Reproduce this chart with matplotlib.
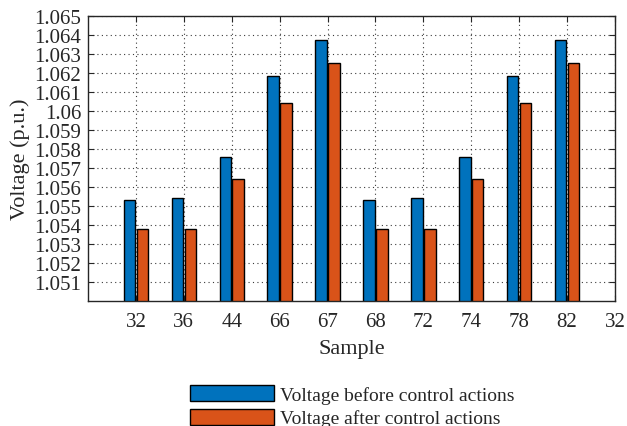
import matplotlib
matplotlib.use("Agg")
import matplotlib.pyplot as plt
import numpy as np

samples = ["32", "36", "44", "66", "67", "68", "72", "74", "78", "82", "32"]
before = [1.05532, 1.05543, 1.05757, 1.06182, 1.06375, 1.05532, 1.05543, 1.05757, 1.06182, 1.06375]
after = [1.05381, 1.05381, 1.05644, 1.06042, 1.06252, 1.05381, 1.05381, 1.05644, 1.06042, 1.06252]
yticks = [1.051, 1.052, 1.053, 1.054, 1.055, 1.056, 1.057, 1.058, 1.059, 1.06,
          1.061, 1.062, 1.063, 1.064, 1.065]
ytick_labels = ["1.051", "1.052", "1.053", "1.054", "1.055", "1.056", "1.057", "1.058",
                "1.059", "1.06", "1.061", "1.062", "1.063", "1.064", "1.065"]

plt.rcParams['font.family'] = ['Liberation Serif', 'DejaVu Serif']

fig = plt.figure(figsize=(6.27, 4.27), dpi=100)
ax = fig.add_axes([88/627, 1 - 302/427, (615-88)/627, (302-17)/427])

x = np.arange(1, len(before) + 1)
w = 0.24
off = 0.135
c_blue = "#0072BD"
c_orange = "#D95319"
b1 = ax.bar(x - off, before, w, bottom=0, color=c_blue, edgecolor="black", linewidth=1.0,
            label="Voltage before control actions", zorder=3)
b2 = ax.bar(x + off, after, w, bottom=0, color=c_orange, edgecolor="black", linewidth=1.0,
            label="Voltage after control actions", zorder=3)

ax.set_xlim(0, len(samples))
ax.set_ylim(1.05, 1.065)
ax.set_xticks(np.arange(1, len(samples) + 1))
ax.set_xticklabels(samples)
ax.set_yticks(yticks)
ax.set_yticklabels(ytick_labels)

dark = "#262626"
ax.tick_params(axis='both', direction='in', top=True, right=True, length=4,
               width=0.8, colors=dark, labelsize=15, pad=5)
ax.tick_params(axis='x', pad=8)
for s in ax.spines.values():
    s.set_color(dark)
    s.set_linewidth(1.0)
    s.set_zorder(4)

ax.grid(True, which='major', axis='both', linestyle=(0, (1, 3)), color='#262626',
        linewidth=0.8, alpha=0.9, zorder=0)
ax.set_axisbelow(True)

ax.set_xlabel("Sample", fontsize=16, color=dark, labelpad=6)
ax.set_ylabel("Voltage (p.u.)", fontsize=16, color=dark, labelpad=3)

leg = fig.legend(handles=[b1, b2], loc='upper left', bbox_to_anchor=(190/627, 1 - 386/427),
                 frameon=False, fontsize=14, handlelength=4.3, handleheight=0.88,
                 labelspacing=0.26, borderpad=0, borderaxespad=0, handletextpad=0.35)
for t in leg.get_texts():
    t.set_color(dark)

fig.savefig("out.png", dpi=100)
